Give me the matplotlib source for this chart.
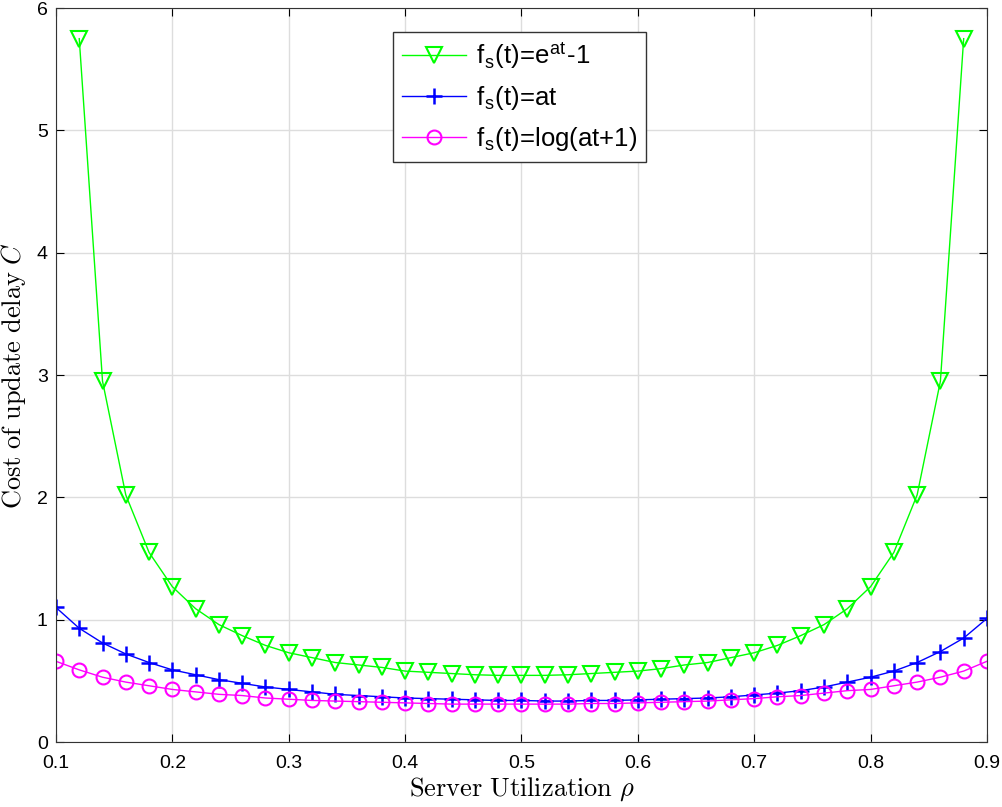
import numpy as np
from matplotlib import pyplot as plt

plt.rcParams['font.family'] = ['Liberation Sans', 'DejaVu Sans']
plt.rcParams['mathtext.fontset'] = 'cm'

# server utilization
rho = [0.10, 0.12, 0.14, 0.16, 0.18, 0.20, 0.22, 0.24, 0.26, 0.28,
       0.30, 0.32, 0.34, 0.36, 0.38, 0.40, 0.42, 0.44, 0.46, 0.48,
       0.50, 0.52, 0.54, 0.56, 0.58, 0.60, 0.62, 0.64, 0.66, 0.68,
       0.70, 0.72, 0.74, 0.76, 0.78, 0.80, 0.82, 0.84, 0.86, 0.88,
       0.90]
rho_exp = rho[1:-1]

# f_s(t) = e^{at} - 1  (0.12 .. 0.88)
cost_exp = [5.75, 2.95, 2.02, 1.55, 1.27, 1.09, 0.96, 0.87, 0.79, 0.73,
            0.69, 0.65, 0.63, 0.61, 0.58, 0.57, 0.56, 0.55, 0.545, 0.545,
            0.545, 0.55, 0.56, 0.57, 0.58, 0.60, 0.63, 0.65, 0.69, 0.73,
            0.79, 0.87, 0.96, 1.09, 1.27, 1.55, 2.02, 2.95, 5.75]

# f_s(t) = at
cost_lin = [1.10, 0.93, 0.81, 0.72, 0.65, 0.59, 0.55, 0.51, 0.48, 0.45,
            0.43, 0.41, 0.39, 0.38, 0.37, 0.36, 0.355, 0.35, 0.345, 0.34,
            0.34, 0.335, 0.335, 0.34, 0.34, 0.345, 0.35, 0.355, 0.36, 0.37,
            0.385, 0.40, 0.42, 0.45, 0.49, 0.53, 0.58, 0.65, 0.74, 0.85,
            1.01]

# f_s(t) = log(at+1)
cost_log = [0.66, 0.59, 0.53, 0.49, 0.46, 0.43, 0.41, 0.39, 0.38, 0.36,
            0.35, 0.34, 0.335, 0.33, 0.325, 0.32, 0.315, 0.31, 0.31, 0.31,
            0.31, 0.31, 0.31, 0.315, 0.315, 0.32, 0.325, 0.33, 0.335, 0.345,
            0.355, 0.37, 0.38, 0.40, 0.42, 0.43, 0.46, 0.49, 0.53, 0.58,
            0.66]

fig = plt.figure(figsize=(10.03, 8.07), dpi=100)
ax = fig.add_axes([0.0558, 0.0805, 0.9282, 0.9095])

ax.plot(rho_exp, cost_exp, color='#00ff00', lw=1, marker='v', ms=11,
        mfc='none', mew=1.5, label=r'f$_\mathregular{s}$(t)=e$^\mathregular{at}$-1')
ax.plot(rho, cost_lin, color='#0000ff', lw=1, marker='+', ms=12,
        mew=1.8, label=r'f$_\mathregular{s}$(t)=at')
ax.plot(rho, cost_log, color='#ff00ff', lw=1, marker='o', ms=10,
        mfc='none', mew=1.5, label=r'f$_\mathregular{s}$(t)=log(at+1)')

ax.set_xlim(0.1, 0.9)
ax.set_ylim(0, 6)
ax.set_xticks(np.arange(0.1, 0.91, 0.1))
ax.set_xticklabels(['0.1', '0.2', '0.3', '0.4', '0.5', '0.6', '0.7', '0.8', '0.9'])
ax.set_yticks(range(0, 7))
ax.tick_params(direction='in', top=True, right=True, labelsize=14, length=6)
ax.tick_params(axis='x', pad=9)
ax.tick_params(axis='y', pad=6)
ax.grid(True, color='#dddddd', lw=1)
ax.set_axisbelow(True)
for s in ax.spines.values():
    s.set_color('#333333')

ax.set_xlabel(r'$\mathrm{Server\ Utilization}\ \rho$', fontsize=19, labelpad=3)
ax.set_ylabel(r'$\mathrm{Cost\ of\ update\ delay}\ C$', fontsize=19, labelpad=6)

leg = ax.legend(loc='upper center', bbox_to_anchor=(0.498, 0.968), fontsize=18.5,
                handlelength=2.5, handletextpad=0.4, fancybox=False,
                edgecolor='#333333', framealpha=1, borderpad=0.35,
                labelspacing=0.5, borderaxespad=0)
leg.get_frame().set_linewidth(1)

plt.savefig('out.png', dpi=100)
